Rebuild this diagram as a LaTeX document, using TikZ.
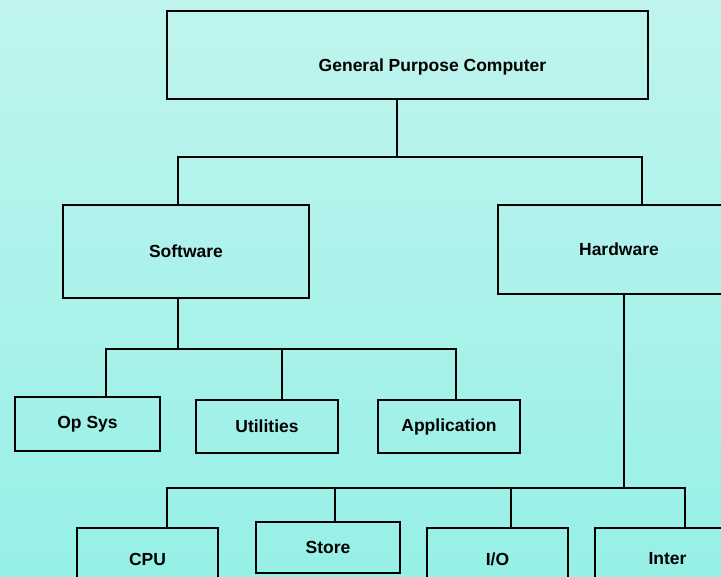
\documentclass[tikz,border=0pt]{standalone}
\usepackage{fontspec}
\setmainfont{Liberation Sans}
\usetikzlibrary{positioning}
\definecolor{bgtop}{RGB}{192,244,238}
\definecolor{bgbot}{RGB}{150,240,230}

\begin{document}
\begin{tikzpicture}[
    x=1pt, y=-1pt,
    box/.style={draw, line width=1.6pt, inner sep=0pt, font=\fontsize{17.5}{20}\selectfont\bfseries},
    wire/.style={line width=1.6pt}
]
    \clip (0,0) rectangle (721,577);
    \shade[top color=bgtop, bottom color=bgbot] (0,0) rectangle (721,577);

    \node[box, minimum width=481pt, minimum height=88pt,
          label={[xshift=25pt, yshift=-12pt, font=\fontsize{17.5}{20}\selectfont\bfseries]center:General Purpose Computer}] (gpc) at (407.5,55) {};
    \node[box, minimum width=246pt, minimum height=93pt] (sw) at (186,251.5) {Software};
    \node[box, minimum width=242pt, minimum height=89pt] (hw) at (619,249.5) {Hardware};

    \node[box, minimum width=145pt, minimum height=54pt] (opsys) at (87.5,424) {Op Sys};
    \node[box, minimum width=142pt, minimum height=53pt] (util) at (267,426.5) {Utilities};
    \node[box, minimum width=142pt, minimum height=53pt] (app) at (449,426.5) {Application};

    \node[box, minimum width=141pt, minimum height=62pt] (cpu) at (147.5,559) {CPU};
    \node[box, minimum width=144pt, minimum height=51pt] (store) at (328,547.5) {Store};
    \node[box, minimum width=141pt, minimum height=62pt] (io) at (497.5,559) {I/O};
    \node[box, minimum width=145pt, minimum height=62pt] (inter) at (667.5,559) {Inter};

    % top level
    \coordinate (bar1) at (397,157);
    \draw[wire] (gpc.south -| bar1) -- (bar1);
    \draw[wire] (sw.north -| 178,0) -- (178,157) -- (642,157) -- (hw.north -| 642,0);

    % software
    \coordinate (bar2) at (178,349);
    \draw[wire] (sw.south -| bar2) -- (bar2);
    \draw[wire] (opsys.north -| 106,0) -- (106,349) -- (456,349) -- (app.north -| 456,0);
    \draw[wire] (util.north -| 282,0) -- (282,349);

    % hardware
    \coordinate (bar3) at (624,488);
    \draw[wire] (hw.south -| bar3) -- (bar3);
    \draw[wire] (cpu.north -| 167,0) -- (167,488) -- (685,488) -- (inter.north -| 685,0);
    \draw[wire] (store.north -| 335,0) -- (335,488);
    \draw[wire] (io.north -| 511,0) -- (511,488);
\end{tikzpicture}
\end{document}
